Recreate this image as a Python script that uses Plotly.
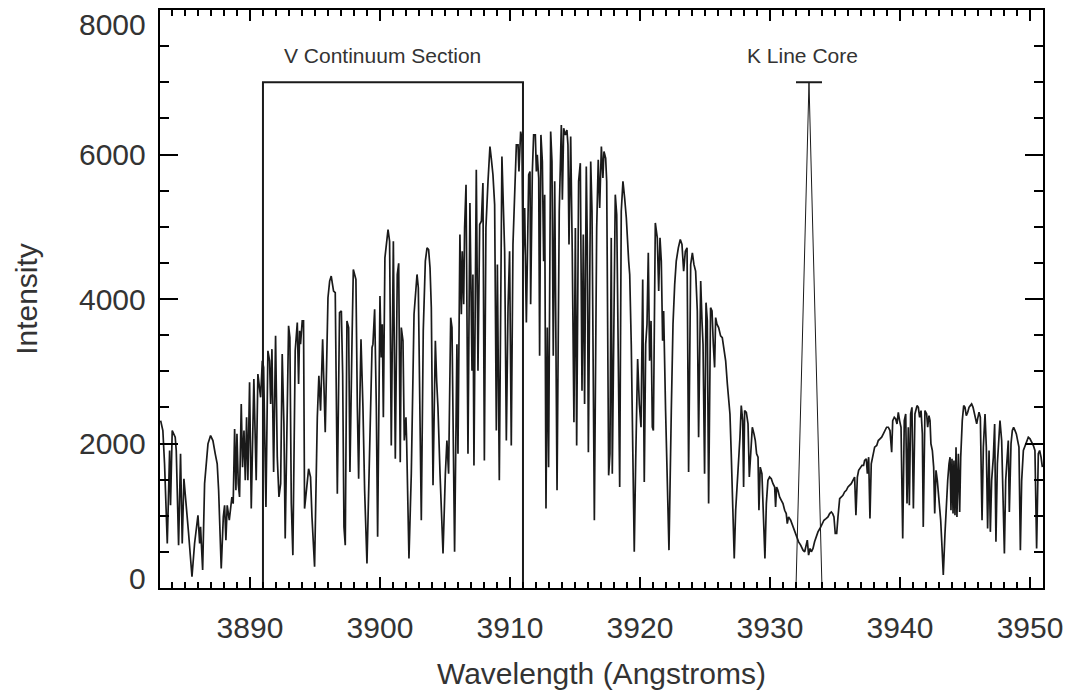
import plotly.graph_objects as go

# ---- spectrum (wavelength in Angstroms, intensity) ----
wavelength = [
    3883.13, 3883.30, 3883.43, 3883.64, 3883.82, 3883.89, 3884.02, 3884.15, 3884.25, 3884.33,
    3884.51, 3884.66, 3884.79, 3884.92, 3885.10, 3885.28, 3885.54, 3885.74, 3886.00, 3886.13,
    3886.20, 3886.36, 3886.51, 3886.77, 3886.97, 3887.15, 3887.33, 3887.48, 3887.59, 3887.79,
    3887.95, 3888.05, 3888.15, 3888.25, 3888.41, 3888.51, 3888.61, 3888.71, 3888.82, 3888.92,
    3889.00, 3889.10, 3889.20, 3889.33, 3889.43, 3889.54, 3889.64, 3889.74, 3889.84, 3889.97,
    3890.10, 3890.30, 3890.48, 3890.61, 3890.74, 3890.82, 3890.95, 3891.05, 3891.23, 3891.38,
    3891.51, 3891.59, 3891.69, 3891.82, 3891.97, 3892.10, 3892.23, 3892.36, 3892.48, 3892.61,
    3892.71, 3892.87, 3892.97, 3893.07, 3893.18, 3893.30, 3893.48, 3893.64, 3893.74, 3893.82,
    3893.89, 3894.02, 3894.12, 3894.20, 3894.36, 3894.51, 3894.66, 3894.77, 3894.97, 3895.18,
    3895.30, 3895.43, 3895.59, 3895.79, 3896.00, 3896.13, 3896.25, 3896.43, 3896.56, 3896.72,
    3896.89,
    3897.03, 3897.13, 3897.23, 3897.33, 3897.46, 3897.59, 3897.69, 3897.85, 3897.95, 3898.05,
    3898.15, 3898.26, 3898.36, 3898.41, 3898.54, 3898.69, 3898.82, 3899.00, 3899.21, 3899.39,
    3899.46, 3899.59, 3899.72, 3899.82, 3900.00, 3900.10, 3900.18, 3900.26, 3900.38, 3900.51,
    3900.62, 3900.74, 3900.87, 3901.03, 3901.18, 3901.33, 3901.44, 3901.56, 3901.64, 3901.77,
    3901.87, 3902.00, 3902.05, 3902.23, 3902.41, 3902.62, 3902.85, 3902.95, 3903.08, 3903.18,
    3903.33, 3903.49, 3903.62, 3903.74, 3903.85, 3903.95, 3904.08, 3904.26, 3904.36, 3904.46,
    3904.62, 3904.85, 3905.03, 3905.15, 3905.28, 3905.44, 3905.54, 3905.64, 3905.74, 3905.92,
    3906.00, 3906.15, 3906.26, 3906.33, 3906.44, 3906.51, 3906.62, 3906.77, 3906.92, 3907.08,
    3907.15, 3907.23, 3907.41, 3907.54, 3907.67, 3907.80, 3907.92, 3908.03, 3908.15, 3908.31,
    3908.46, 3908.56, 3908.69, 3908.82, 3908.95, 3909.03, 3909.18, 3909.38, 3909.59, 3909.72,
    3909.85, 3909.97, 3910.10, 3910.23, 3910.36, 3910.49,
    3910.62, 3910.69, 3910.82, 3910.92, 3911.00, 3911.13, 3911.26, 3911.44, 3911.54, 3911.59,
    3911.72, 3911.82, 3911.95, 3912.03, 3912.10, 3912.21, 3912.28, 3912.38, 3912.49, 3912.59,
    3912.67, 3912.77, 3912.87, 3912.97, 3913.13, 3913.23, 3913.33, 3913.44, 3913.62, 3913.79,
    3913.95, 3914.03, 3914.13, 3914.26, 3914.38, 3914.46, 3914.54, 3914.67, 3914.79, 3914.92,
    3915.03, 3915.13, 3915.28, 3915.41, 3915.54, 3915.64, 3915.74, 3915.87, 3915.95, 3916.03,
    3916.21, 3916.31, 3916.49, 3916.67, 3916.79, 3916.90, 3917.03, 3917.15, 3917.23, 3917.36,
    3917.44, 3917.59, 3917.69, 3917.79, 3917.87, 3918.00, 3918.10, 3918.21, 3918.44, 3918.56,
    3918.69, 3918.82, 3918.95, 3919.13, 3919.21, 3919.33, 3919.46, 3919.56, 3919.67, 3919.82,
    3919.95, 3920.08, 3920.21, 3920.33, 3920.44, 3920.54, 3920.64, 3920.74, 3920.85, 3920.95,
    3921.03, 3921.13, 3921.18, 3921.33, 3921.44, 3921.54, 3921.64, 3921.74, 3921.82, 3921.97,
    3922.10, 3922.23, 3922.41, 3922.54, 3922.67, 3922.79, 3922.95, 3923.10, 3923.23, 3923.36,
    3923.49, 3923.62, 3923.74, 3923.90, 3924.03, 3924.15, 3924.28, 3924.41,
    3924.51, 3924.67, 3924.77, 3924.85, 3924.97, 3925.08, 3925.18, 3925.28, 3925.43, 3925.54,
    3925.64, 3925.74, 3925.82, 3925.92, 3926.05, 3926.20, 3926.33, 3926.46, 3926.59, 3926.72,
    3926.82, 3926.92, 3927.02, 3927.15, 3927.25, 3927.36, 3927.49, 3927.59, 3927.69, 3927.79,
    3927.90, 3927.97, 3928.05, 3928.18, 3928.31, 3928.41, 3928.51, 3928.64, 3928.77, 3928.87,
    3928.97, 3929.08, 3929.15, 3929.25, 3929.38, 3929.51, 3929.61, 3929.72, 3929.84, 3929.97,
    3930.10, 3930.23, 3930.36, 3930.43, 3930.51, 3930.61, 3930.74, 3930.87, 3931.00, 3931.13,
    3931.25, 3931.33, 3931.43, 3931.59, 3931.77, 3931.90, 3932.05, 3932.20, 3932.36, 3932.54,
    3932.67, 3932.79, 3932.87, 3932.97, 3933.08, 3933.18, 3933.31, 3933.43, 3933.56, 3933.69,
    3933.84, 3934.00, 3934.15, 3934.31, 3934.46, 3934.59, 3934.72, 3934.82, 3934.92, 3935.02,
    3935.13, 3935.23, 3935.36, 3935.49, 3935.61, 3935.74, 3935.87, 3936.00, 3936.13, 3936.25,
    3936.38, 3936.51, 3936.61, 3936.72, 3936.82, 3936.97, 3937.08, 3937.20, 3937.28, 3937.41,
    3937.49, 3937.59, 3937.69, 3937.79, 3937.92, 3938.05,
    3938.21, 3938.33, 3938.46, 3938.59, 3938.72, 3938.85, 3938.97, 3939.10, 3939.23, 3939.36,
    3939.44, 3939.56, 3939.67, 3939.77, 3939.87, 3939.97, 3940.08, 3940.21, 3940.33, 3940.44,
    3940.54, 3940.64, 3940.72, 3940.82, 3940.92, 3941.03, 3941.15, 3941.31, 3941.41, 3941.51,
    3941.62, 3941.72, 3941.79, 3941.92, 3942.05, 3942.13, 3942.23, 3942.31, 3942.38, 3942.49,
    3942.59, 3942.67, 3942.77, 3942.87, 3943.00, 3943.13, 3943.23, 3943.33, 3943.46, 3943.56,
    3943.67, 3943.77, 3943.85, 3943.92, 3944.00, 3944.08, 3944.15, 3944.23, 3944.31, 3944.38,
    3944.49, 3944.59, 3944.67, 3944.79, 3944.90, 3945.00, 3945.10, 3945.21, 3945.31, 3945.41,
    3945.51, 3945.62, 3945.72, 3945.82, 3945.90, 3945.97, 3946.08, 3946.18, 3946.31, 3946.41,
    3946.54, 3946.64, 3946.74, 3946.85, 3946.95, 3947.05, 3947.18, 3947.28, 3947.38, 3947.49,
    3947.59, 3947.69, 3947.82, 3947.92, 3948.03, 3948.13, 3948.23, 3948.33, 3948.41, 3948.54,
    3948.64, 3948.74, 3948.85, 3948.95, 3949.05, 3949.15, 3949.26, 3949.36, 3949.49, 3949.62,
    3949.74, 3949.87, 3950.00, 3950.13, 3950.26, 3950.38, 3950.51, 3950.64, 3950.74, 3950.85,
    3950.95,
]

intensity = [
    2317, 2179, 1719, 616, 1903, 1145, 2179, 2133, 2087, 1903,
    593, 1857, 616, 1512, 1076, 754, 156, 616, 1007, 616,
    846, 248, 1444, 1995, 2110, 2041, 1857, 1719, 1352, 271,
    984, 1145, 662, 1145, 938, 1122, 1260, 1168, 2202, 1352,
    2133, 1444, 1260, 2547, 1673, 2179, 1490, 2363, 1490, 2846,
    1099, 2892, 1490, 2961, 2731, 2639, 3145, 3053, 1122, 3283,
    3145, 2547, 3306, 1604, 3490, 1811, 1260, 1444, 3237, 2271,
    685, 2823, 3628, 3467, 1168, 455, 3283, 3674, 2823, 3559,
    3375, 3697, 3697, 1099, 1444, 1650, 1535, 984, 294, 2363,
    2938, 2455, 3444, 2156, 4018, 4248, 4317, 4110, 4087, 1306,
    3812,
    3834, 2961, 846, 593, 3697, 3604, 1604, 3421, 4409, 4340,
    4271, 2501, 1513, 2179, 3444, 2501, 1352, 340, 2041, 3329,
    3375, 3858, 2501, 708, 4041, 3191, 3651, 2363, 4570, 4846,
    4961, 4800, 1972, 4800, 1789, 4340, 4493, 1742, 3604, 3421,
    2041, 2363, 2041, 409, 1582, 3789, 4340, 4156, 2501, 938,
    3559, 4524, 4708, 4685, 4432, 3880, 1421, 3421, 2869, 2501,
    1582, 478, 1582, 2041, 1582, 3742, 3604, 2110, 501, 3375,
    1858, 4892, 3789, 4662, 3926, 4984, 5582, 1858, 5329, 3007,
    4340, 1697, 5789, 3007, 5030, 5076, 5605, 1766, 4984, 5628,
    6110, 5949, 5720, 5306, 2179, 4478, 1490, 5972, 4662, 2041,
    3880, 4662, 1972, 4754, 5490, 6133,
    6133, 5765, 6317, 6225, 4524, 5260, 3674, 5720, 5765, 3926,
    5765, 6271, 6271, 5765, 5995, 5674, 3214, 6271, 5903, 4524,
    5444, 1099, 3605, 1673, 6317, 5903, 3214, 5628, 1352, 5214,
    6409, 5375, 6363, 6271, 6340, 6133, 4754, 6248, 4662, 2294,
    4984, 1972, 5628, 5880, 2731, 4892, 2547, 5834, 4754, 1880,
    5903, 5214, 938, 4984, 5927, 5260, 6110, 5674, 6041, 5949,
    5628, 1559, 1858, 4846, 1582, 4294, 5444, 5168, 1398, 5214,
    5628, 5398, 5122, 4524, 4340, 3375, 1996, 501, 1766, 3168,
    2547, 2225, 4271, 1467, 3375, 3651, 4639, 3145, 3697, 2225,
    2179, 4294, 5053, 4846, 4110, 4846, 4524, 3421, 3834, 2455,
    1306, 524, 2455, 3651, 4202, 4524, 4708, 4823, 4754, 4386,
    4662, 4708, 1604, 4478, 4639, 4478, 4386, 3834,
    2087, 4248, 3697, 3375, 1582, 3949, 3697, 1168, 3880, 3834,
    3375, 3053, 3742, 3651, 3604, 3490, 3466, 3283, 3145, 2823,
    2639, 2409, 1858, 938, 409, 1076, 1490, 1673, 2087, 2524,
    2317, 1398, 2455, 2432, 2271, 1536, 1858, 2225, 2133, 2041,
    1858, 1811, 1076, 1673, 1582, 938, 409, 1168, 1490, 1536,
    1513, 1444, 1398, 1122, 1398, 1352, 1260, 1214, 1168, 1076,
    1030, 892, 984, 938, 846, 777, 685, 639, 593, 524,
    501, 616, 662, 455, 547, 501, 547, 639, 708, 777,
    823, 892, 938, 961, 984, 1030, 1053, 1030, 984, 754,
    754, 984, 1237, 1260, 1283, 1329, 1352, 1398, 1421, 1444,
    1490, 1536, 1007, 1536, 1628, 1673, 1697, 1697, 1766, 1789,
    1582, 1811, 961, 1719, 1858, 1949,
    1972, 2041, 2064, 2087, 2133, 2179, 2225, 2225, 2179, 1880,
    2317, 2363, 2340, 2271, 2432, 2317, 2225, 685, 2317, 2409,
    1168, 2225, 1145, 2409, 2501, 1099, 2409, 2524, 2501, 2363,
    2455, 2133, 846, 2455, 2409, 2225, 2386, 2317, 1996, 1903,
    1673, 1030, 1628, 1490, 1260, 938, 570, 179, 754, 1168,
    1490, 1719, 1811, 1076, 1789, 1030, 1766, 1007, 1949, 984,
    1858, 1053, 1811, 2317, 2524, 2501, 2386, 2432, 2501, 2524,
    2547, 2501, 2409, 2340, 2271, 2340, 2432, 2363, 938, 1949,
    2409, 1949, 823, 1903, 777, 1490, 1811, 2271, 639, 1719,
    2041, 2317, 2041, 1352, 478, 1490, 1811, 2041, 1053, 1996,
    2179, 2225, 2179, 2133, 2041, 1949, 524, 1490, 1903, 1972,
    2041, 2087, 2064, 2018, 1972, 1903, 547, 1858, 1903, 1811,
    1673,
]

# ---- marker outlines drawn over the spectrum ----
v_section_x = [3891, 3891, 3911, 3911]
v_section_y = [0, 7000, 7000, 0]
k_core_x = [3932, 3933, 3934]
k_core_y = [0, 7000, 0]
k_bar_x = [3932, 3934]
k_bar_y = [7000, 7000]

x_ticks = [3890, 3900, 3910, 3920, 3930, 3940, 3950]
y_ticks = [0, 2000, 4000, 6000, 8000]
y_tick_labels = ["0", "2000", "4000", "6000", "8000"]

FONT = "Liberation Sans, Arial, Helvetica, sans-serif"
INK = "#1a1a1a"
TXT = "#333333"

fig = go.Figure()
fig.add_trace(go.Scatter(x=wavelength, y=intensity, mode="lines",
                         line=dict(color=INK, width=1.7), showlegend=False,
                         hoverinfo="skip"))
fig.add_trace(go.Scatter(x=v_section_x, y=v_section_y, mode="lines",
                         line=dict(color=INK, width=2), showlegend=False))
fig.add_trace(go.Scatter(x=k_core_x, y=k_core_y, mode="lines",
                         line=dict(color=INK, width=1), showlegend=False))
fig.add_trace(go.Scatter(x=k_bar_x, y=k_bar_y, mode="lines",
                         line=dict(color=INK, width=2), showlegend=False))

annotations = [
    dict(x=3900.2, y=7370, xref="x", yref="y", text="V Continuum Section",
         showarrow=False, font=dict(size=21, color=TXT, family=FONT),
         xanchor="center", yanchor="middle"),
    dict(x=3932.5, y=7370, xref="x", yref="y", text="K Line Core",
         showarrow=False, font=dict(size=21, color=TXT, family=FONT),
         xanchor="center", yanchor="middle"),
]
shifts = {0: 10, 8000: -14}
for v, lab in zip(y_ticks, y_tick_labels):
    annotations.append(dict(x=0, y=v, xref="paper", yref="y", text=lab,
                            showarrow=False, xanchor="right", yanchor="middle",
                            xshift=-12, yshift=shifts.get(v, 0),
                            font=dict(size=30, color=TXT, family=FONT)))

axis_common = dict(showline=True, linecolor="black", linewidth=2, mirror="ticks",
                   ticks="inside", tickcolor="black", tickwidth=2,
                   showgrid=False, zeroline=False)

fig.update_layout(
    width=1071, height=693,
    margin=dict(l=160, r=28, t=8, b=105),
    paper_bgcolor="white", plot_bgcolor="white",
    font=dict(family=FONT, color=TXT),
    annotations=annotations,
    xaxis=dict(range=[3883.08, 3951.0], tickvals=x_ticks, ticklen=11,
               tickfont=dict(size=30, color=TXT, family=FONT),
               ticklabelstandoff=12,
               minor=dict(ticks="inside", dtick=1, ticklen=6, tickwidth=1.5,
                          tickcolor="black"),
               title=dict(text="Wavelength (Angstroms)", standoff=20,
                          font=dict(size=30, color=TXT, family=FONT)),
               **axis_common),
    yaxis=dict(range=[0, 8000], tickvals=y_ticks, ticklen=18,
               showticklabels=False,
               minor=dict(ticks="inside", dtick=500, ticklen=9, tickwidth=1.5,
                          tickcolor="black"),
               title=dict(text="Intensity", standoff=112,
                          font=dict(size=30, color=TXT, family=FONT)),
               **axis_common),
)

fig.write_html("out.html")
